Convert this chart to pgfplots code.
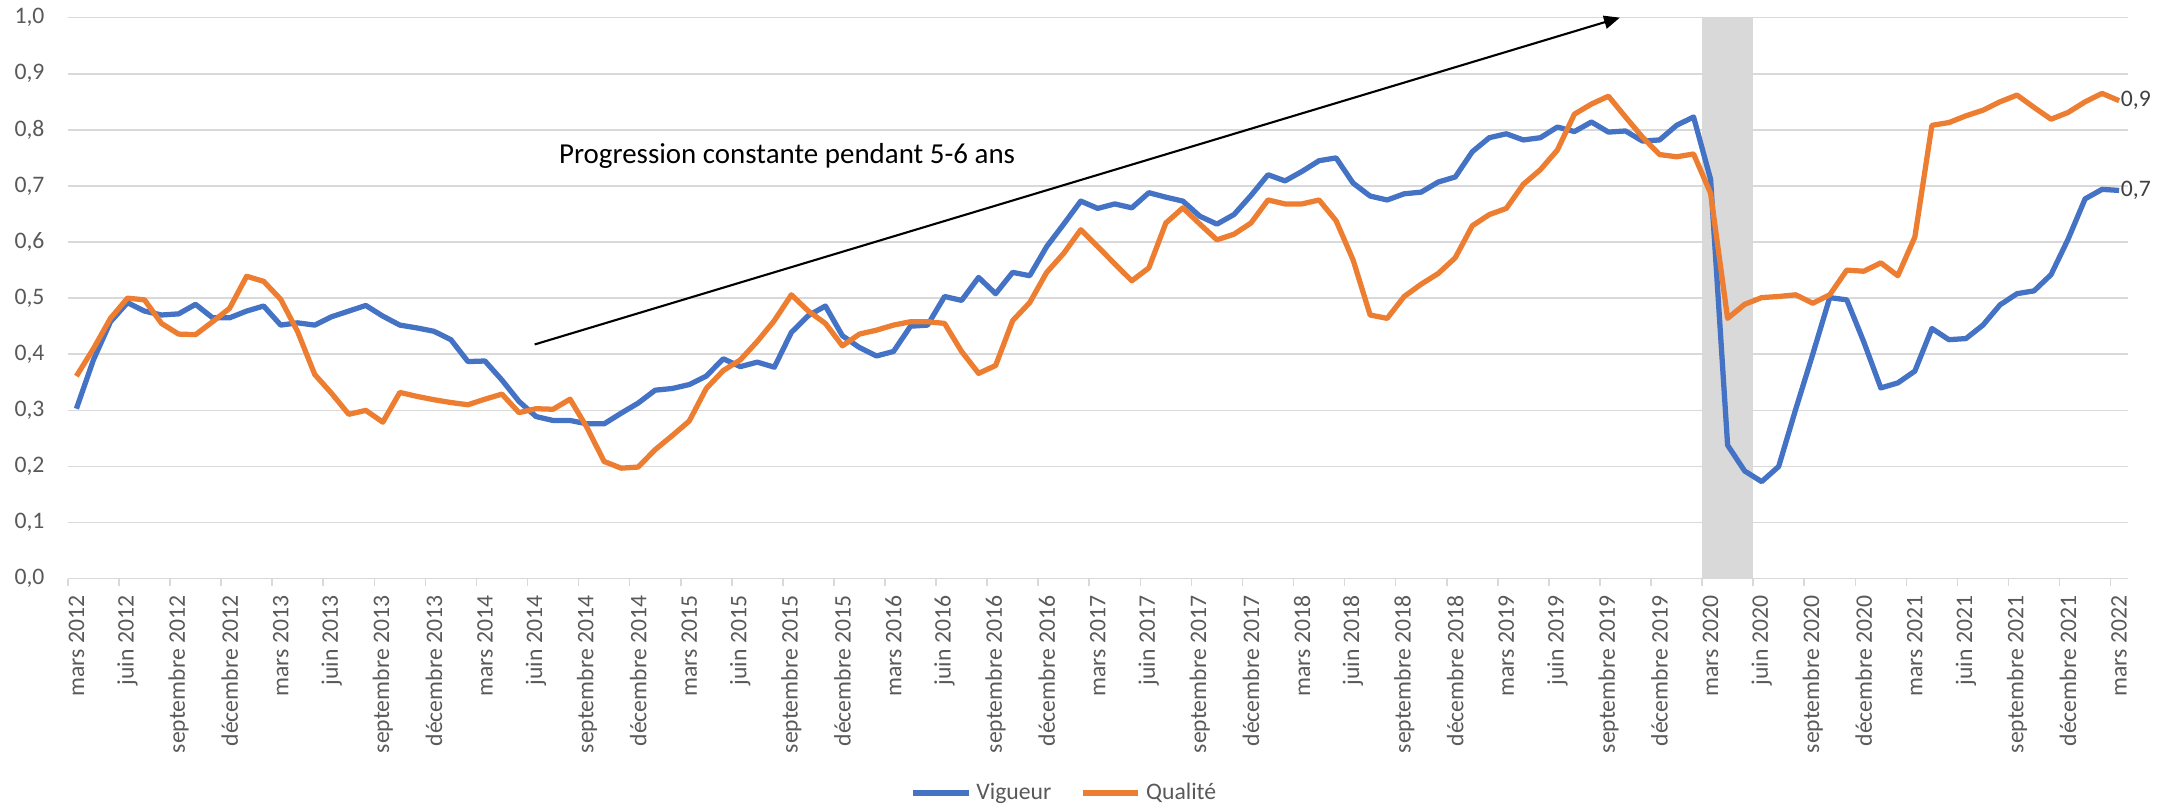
\documentclass[border=0pt]{standalone}
\usepackage{pgfplots}
\pgfplotsset{compat=1.18}
\usepackage{pgfplotstable}
\usepackage{fontspec}
\setmainfont{Carlito}
\usetikzlibrary{arrows.meta}

\definecolor{vigBlue}{HTML}{4472C4}
\definecolor{qualOrange}{HTML}{ED7D31}
\definecolor{gridGray}{HTML}{D9D9D9}
\definecolor{labelGray}{HTML}{595959}

% monthly index: 0 = mars 2012 ... 120 = mars 2022
\pgfplotstableread{
i vig qual
0 0.303 0.361
1 0.390 0.410
2 0.458 0.464
3 0.492 0.500
4 0.477 0.497
5 0.470 0.455
6 0.472 0.436
7 0.489 0.435
8 0.465 0.458
9 0.465 0.482
10 0.477 0.539
11 0.486 0.530
12 0.452 0.498
13 0.456 0.440
14 0.452 0.364
15 0.467 0.330
16 0.477 0.293
17 0.487 0.300
18 0.468 0.279
19 0.452 0.332
20 0.447 0.325
21 0.441 0.319
22 0.426 0.314
23 0.387 0.310
24 0.388 0.320
25 0.354 0.329
26 0.316 0.296
27 0.289 0.303
28 0.282 0.302
29 0.282 0.320
30 0.276 0.269
31 0.276 0.209
32 0.295 0.197
33 0.313 0.199
34 0.336 0.230
35 0.339 0.255
36 0.346 0.281
37 0.361 0.339
38 0.392 0.371
39 0.378 0.390
40 0.386 0.423
41 0.377 0.460
42 0.439 0.506
43 0.469 0.477
44 0.486 0.455
45 0.433 0.415
46 0.412 0.436
47 0.397 0.443
48 0.405 0.452
49 0.450 0.458
50 0.452 0.458
51 0.503 0.455
52 0.496 0.405
53 0.537 0.366
54 0.508 0.380
55 0.546 0.460
56 0.540 0.492
57 0.592 0.546
58 0.632 0.580
59 0.673 0.622
60 0.660 0.592
61 0.668 0.561
62 0.661 0.531
63 0.688 0.554
64 0.680 0.634
65 0.673 0.661
66 0.646 0.632
67 0.632 0.604
68 0.649 0.614
69 0.683 0.634
70 0.720 0.675
71 0.709 0.668
72 0.726 0.668
73 0.745 0.675
74 0.750 0.638
75 0.705 0.568
76 0.682 0.470
77 0.675 0.464
78 0.686 0.503
79 0.689 0.525
80 0.707 0.544
81 0.716 0.572
82 0.761 0.629
83 0.786 0.649
84 0.793 0.660
85 0.782 0.703
86 0.786 0.729
87 0.805 0.764
88 0.797 0.828
89 0.814 0.846
90 0.796 0.860
91 0.798 0.823
92 0.780 0.787
93 0.782 0.756
94 0.808 0.752
95 0.823 0.757
96 0.712 0.687
97 0.238 0.464
98 0.192 0.489
99 0.173 0.501
100 0.200 0.503
101 0.302 0.506
102 0.400 0.491
103 0.501 0.506
104 0.497 0.550
105 0.422 0.548
106 0.340 0.563
107 0.349 0.540
108 0.370 0.609
109 0.446 0.808
110 0.426 0.813
111 0.428 0.825
112 0.452 0.835
113 0.488 0.850
114 0.508 0.862
115 0.513 0.840
116 0.542 0.819
117 0.605 0.831
118 0.677 0.850
119 0.694 0.865
120 0.692 0.852
}\scores

\begin{document}
\begin{tikzpicture}
\begin{axis}[
    at={(0,0)}, anchor=south west,
    scale only axis,
    width=782.7pt, height=213.2pt,
    xmin=-0.5, xmax=120.5,
    ymin=0, ymax=1,
    clip=false,
    axis line style={draw=none},
    ymajorgrids,
    grid style={gridGray, line width=0.6pt},
    ytick={0,0.1,0.2,0.3,0.4,0.5,0.6,0.7,0.8,0.9,1.0},
    /pgf/number format/fixed,
    /pgf/number format/fixed zerofill,
    /pgf/number format/precision=1,
    /pgf/number format/use comma,
    /pgf/number format/assume math mode=true,
    yticklabel style={font=\fontsize{9}{10}\selectfont, text=labelGray,
        anchor=east, inner sep=0pt, xshift=-8.7pt},
    xtick={0,3,...,120},
    xticklabels={mars 2012, juin 2012, septembre 2012, décembre 2012,
        mars 2013, juin 2013, septembre 2013, décembre 2013,
        mars 2014, juin 2014, septembre 2014, décembre 2014,
        mars 2015, juin 2015, septembre 2015, décembre 2015,
        mars 2016, juin 2016, septembre 2016, décembre 2016,
        mars 2017, juin 2017, septembre 2017, décembre 2017,
        mars 2018, juin 2018, septembre 2018, décembre 2018,
        mars 2019, juin 2019, septembre 2019, décembre 2019,
        mars 2020, juin 2020, septembre 2020, décembre 2020,
        mars 2021, juin 2021, septembre 2021, décembre 2021,
        mars 2022},
    xticklabel style={font=\fontsize{9}{10}\selectfont, text=labelGray,
        yshift=-6.3pt, rotate=90, anchor=east, inner sep=0pt},
    minor xtick={-0.5,2.5,...,119.5},
    xtick pos=lower, ytick pos=left,
    tick align=outside,
    major tick length=0pt,
    minor tick length=2.6pt,
    minor tick style={gridGray, line width=0.6pt},
    legend style={at={(0.4846,-0.382)}, anchor=center, draw=none, fill=none,
        legend columns=-1, font=\fontsize{9}{10}\selectfont, text=labelGray,
        /tikz/every even column/.append style={column sep=9pt}},
    legend image code/.code={\draw[#1] (0pt,0pt) -- (21pt,0pt);},
]

% confinement period: mars-mai 2020
\addplot[fill=gridGray, draw=none, forget plot]
    coordinates {(95.5,1) (98.5,1)} \closedcycle;

\addplot[vigBlue, line width=2pt, line join=round] table[x=i, y=vig] {\scores};
\addlegendentry{Vigueur}
\addplot[qualOrange, line width=2pt, line join=round] table[x=i, y=qual] {\scores};
\addlegendentry{Qualité}

\node[anchor=west, inner sep=0.5pt, text=black!75, font=\fontsize{9}{10}\selectfont]
    at (axis cs:120,0.852) {0,9};
\node[anchor=west, inner sep=0.5pt, text=black!75, font=\fontsize{9}{10}\selectfont]
    at (axis cs:120,0.692) {0,7};

\draw[-{Triangle[length=6pt,width=5pt]}, line width=0.8pt]
    (axis cs:26.92,0.4175) -- (axis cs:90.67,1.0);
\node[font=\fontsize{11}{13}\selectfont] at (axis cs:41.75,0.753)
    {Progression constante pendant 5-6 ans};

\end{axis}
\pgfresetboundingbox
\path (-25.8pt,-86.4pt) rectangle (798.8pt,219.9pt);
\end{tikzpicture}
\end{document}
